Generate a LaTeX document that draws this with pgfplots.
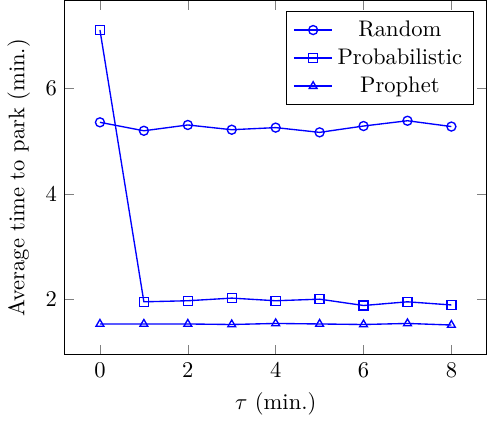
\documentclass[border=0pt]{standalone}
\usepackage{pgfplots}
\pgfplotsset{compat=1.18}
\begin{document}
\begin{tikzpicture}
\begin{axis}[
  scale only axis,
  width=187pt,height=157pt,
  xlabel={$\tau$ (min.)},
  ylabel={Average time to park (min.)},
  xtick={0,2,4,6,8},
  ytick={2,4,6},
  legend cell align=center,
  legend pos=north east,
]
\addplot[blue,semithick,mark=o] coordinates {
  (0,5.36)(1,5.20)(2,5.31)(3,5.22)(4,5.26)(5,5.17)(6,5.29)(7,5.39)(8,5.28)};
\addlegendentry{Random}
\addplot[blue,semithick,mark=square] coordinates {
  (0,7.11)(1,1.96)(2,1.98)(3,2.03)(4,1.98)(5,2.01)(6,1.89)(7,1.96)(8,1.90)};
\addlegendentry{Probabilistic}
\addplot[blue,semithick,mark=triangle] coordinates {
  (0,1.54)(1,1.54)(2,1.54)(3,1.53)(4,1.55)(5,1.54)(6,1.53)(7,1.55)(8,1.52)};
\addlegendentry{Prophet}
\end{axis}
\end{tikzpicture}
\end{document}
